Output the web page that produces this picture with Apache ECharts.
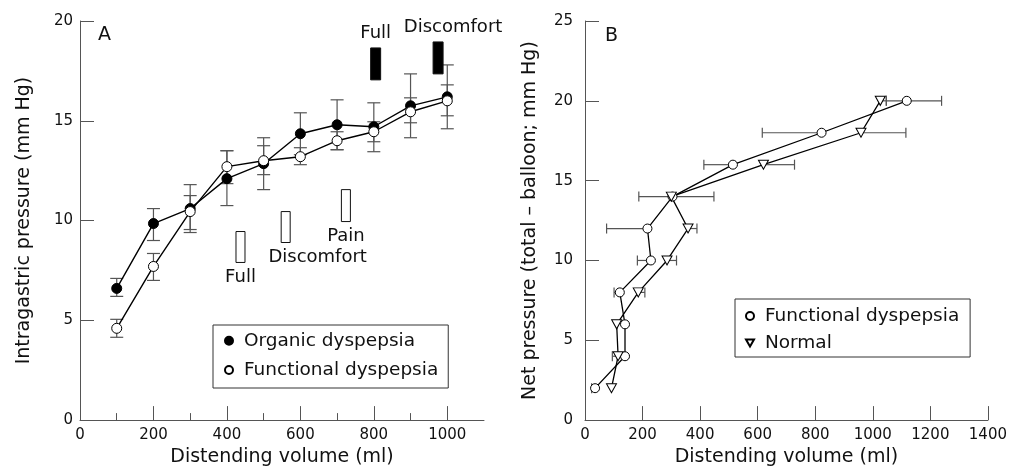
<!DOCTYPE html>
<html><head><meta charset="utf-8">
<script src="https://cdn.jsdelivr.net/npm/echarts@6/dist/echarts.min.js"></script>
<style>html,body{margin:0;padding:0;background:#fff}#c{width:1010px;height:472px}</style>
</head><body><div id="c"></div>
<script>
// ---------- Panel A data ----------
const volumesA = [100, 200, 300, 400, 500, 600, 700, 800, 900, 1000];
const organic   = [6.6, 9.85, 10.6, 12.1, 12.85, 14.35, 14.8, 14.7, 15.75, 16.2];
const organicLo = [6.2, 9.0, 9.4, 10.75, 11.55, 13.3, 13.55, 13.45, 14.15, 14.6];
const organicHi = [7.1, 10.6, 11.8, 13.5, 14.15, 15.4, 16.05, 15.9, 17.35, 17.8];
const functionalA   = [4.6, 7.7, 10.45, 12.7, 13.0, 13.2, 14.0, 14.45, 15.45, 16.0];
const functionalALo = [4.15, 7.0, 9.55, 11.85, 12.3, 12.8, 13.55, 13.95, 14.9, 15.25];
const functionalAHi = [5.05, 8.35, 11.25, 13.5, 13.75, 13.65, 14.45, 14.95, 16.15, 16.8];
// symptom threshold bars (volume, low pressure, high pressure)
const openSymptomNames = ['Full', 'Discomfort', 'Pain'];
const openSymptomVol = [437, 560, 724];
const openSymptomLo  = [7.9, 8.9, 9.95];
const openSymptomHi  = [9.45, 10.45, 11.55];
const filledSymptomNames = ['Full', 'Discomfort'];
const filledSymptomVol = [805, 975];
const filledSymptomLo  = [17.05, 17.35];
const filledSymptomHi  = [18.65, 18.95];
const xLabelsA = [0, 200, 400, 600, 800, 1000];
const xMajorTicksA = [200, 400, 600, 800, 1000];
const xMinorTicksA = [100, 300, 500, 700, 900];

// ---------- Panel B data ----------
const pressuresB = [2, 4, 6, 8, 10, 12, 14, 16, 18, 20];
const functionalBVol = [35, 139, 139, 121, 229, 217, 304, 514, 822, 1118];
const functionalBLo  = [23, 95, 139, 101, 182, 75, 187, 413, 616, 1047];
const functionalBHi  = [35, 139, 139, 121, 229, 217, 304, 514, 822, 1239];
const normalVol = [92, 115, 110, 185, 285, 358, 300, 620, 959, 1026];
const normalLo  = [92, 115, 110, 185, 285, 358, 300, 620, 959, 1026];
const normalHi  = [92, 115, 110, 208, 318, 389, 448, 728, 1115, 1047];
const xLabelsB = [0, 200, 400, 600, 800, 1000, 1200, 1400];
const xTicksB = [200, 400, 600, 800, 1000, 1200, 1400];

// ---------- styles ----------
const FONT = 'DejaVu Sans';
const AXIS_COLOR = '#555';
const ERR_COLOR = '#555';
const TEXT_COLOR = '#111';
const TRI = 'path://M0,0L10,0L5,8.66Z';
const openLabelOffsets = [[0, 14.5], [32, 14.5], [0, 14.5]];
const filledLabelOffsets = [[0, -15], [15, -15]];

function zip(...arrs) { return arrs[0].map((_, i) => arrs.map(a => a[i])); }
const plain = v => String(v);

function vErr(params, api) {
  const x = api.value(0), lo = api.value(1), hi = api.value(2);
  const p1 = api.coord([x, hi]), p2 = api.coord([x, lo]);
  const w = 6.5;
  const st = { stroke: ERR_COLOR, lineWidth: 1.2 };
  return { type: 'group', children: [
    { type: 'line', shape: { x1: p1[0], y1: p1[1], x2: p2[0], y2: p2[1] }, style: st },
    { type: 'line', shape: { x1: p1[0] - w, y1: p1[1], x2: p1[0] + w, y2: p1[1] }, style: st },
    { type: 'line', shape: { x1: p2[0] - w, y1: p2[1], x2: p2[0] + w, y2: p2[1] }, style: st }
  ]};
}
function hErr(params, api) {
  const y = api.value(0), lo = api.value(1), hi = api.value(2), c = api.value(3);
  const pl = api.coord([lo, y]), ph = api.coord([hi, y]);
  const h = 5;
  const st = { stroke: ERR_COLOR, lineWidth: 1.2 };
  const ch = [{ type: 'line', shape: { x1: pl[0], y1: pl[1], x2: ph[0], y2: ph[1] }, style: st }];
  if (lo < c) ch.push({ type: 'line', shape: { x1: pl[0], y1: pl[1] - h, x2: pl[0], y2: pl[1] + h }, style: st });
  if (hi > c) ch.push({ type: 'line', shape: { x1: ph[0], y1: ph[1] - h, x2: ph[0], y2: ph[1] + h }, style: st });
  return { type: 'group', children: ch };
}
function symptomRenderer(names, offsets, fill, width, below) {
  return function (params, api) {
    const x = api.value(0), lo = api.value(1), hi = api.value(2);
    const pt = api.coord([x, hi]), pb = api.coord([x, lo]);
    const i = params.dataIndex;
    const anchorY = below ? pb[1] : pt[1];
    return { type: 'group', children: [
      { type: 'rect', shape: { x: pt[0] - width / 2, y: pt[1], width: width, height: pb[1] - pt[1] },
        style: { fill: fill, stroke: '#111', lineWidth: 1 } },
      { type: 'text', x: pt[0] + offsets[i][0], y: anchorY + offsets[i][1],
        style: { text: names[i], font: '18px ' + FONT, fill: TEXT_COLOR, align: 'center', verticalAlign: 'middle' } }
    ]};
  };
}

const axisLineStyle = { lineStyle: { color: AXIS_COLOR, width: 1 } };
const labelStyle = { fontFamily: FONT, fontSize: 15, color: TEXT_COLOR, formatter: plain };
const nameStyle = { fontFamily: FONT, fontSize: 19, color: TEXT_COLOR };

const option = {
  animation: false,
  backgroundColor: '#fff',
  grid: [
    { left: 80, top: 21, width: 404, height: 400 },
    { left: 585, top: 21, width: 404, height: 400 }
  ],
  xAxis: [
    { gridIndex: 0, type: 'value', min: 0, max: 1100, interval: 200, position: 'bottom',
      name: 'Distending volume (ml)', nameLocation: 'middle', nameGap: 26, nameTextStyle: nameStyle,
      axisLine: axisLineStyle, splitLine: { show: false },
      axisTick: { inside: true, length: 14, customValues: xMajorTicksA, lineStyle: { color: AXIS_COLOR } },
      axisLabel: Object.assign({ margin: 8, customValues: xLabelsA }, labelStyle) },
    { gridIndex: 0, type: 'value', min: 0, max: 1100, position: 'bottom',
      axisLine: { show: false }, splitLine: { show: false }, axisLabel: { show: false },
      axisTick: { inside: true, length: 7, customValues: xMinorTicksA, lineStyle: { color: AXIS_COLOR } } },
    { gridIndex: 1, type: 'value', min: 0, max: 1400, interval: 200, position: 'bottom',
      name: 'Distending volume (ml)', nameLocation: 'middle', nameGap: 26, nameTextStyle: nameStyle,
      axisLine: axisLineStyle, splitLine: { show: false },
      axisTick: { inside: true, length: 14, customValues: xTicksB, lineStyle: { color: AXIS_COLOR } },
      axisLabel: Object.assign({ margin: 8, customValues: xLabelsB }, labelStyle) }
  ],
  yAxis: [
    { gridIndex: 0, type: 'value', min: 0, max: 20, interval: 5,
      name: 'Intragastric pressure (mm Hg)', nameLocation: 'middle', nameGap: 46, nameTextStyle: nameStyle,
      axisLine: { show: true, lineStyle: { color: AXIS_COLOR } }, splitLine: { show: false },
      axisTick: { show: true, inside: true, length: 14, lineStyle: { color: AXIS_COLOR } },
      axisLabel: Object.assign({ margin: 7 }, labelStyle) },
    { gridIndex: 1, type: 'value', min: 0, max: 25, interval: 5,
      name: 'Net pressure (total – balloon; mm Hg)', nameLocation: 'middle', nameGap: 45, nameTextStyle: nameStyle,
      axisLine: { show: true, lineStyle: { color: AXIS_COLOR } }, splitLine: { show: false },
      axisTick: { show: true, inside: true, length: 14, lineStyle: { color: AXIS_COLOR } },
      axisLabel: Object.assign({ margin: 12 }, labelStyle) }
  ],
  legend: [
    { left: 213, top: 325, orient: 'vertical', itemWidth: 8, itemHeight: 8, itemGap: 9.3,
      padding: [5.7, 10, 8, 11], borderColor: '#333', borderWidth: 1,
      formatter: ' {name}', selectedMode: false,
      textStyle: { fontFamily: FONT, fontSize: 18.5, color: TEXT_COLOR, lineHeight: 20 },
      data: [{ name: 'Organic dyspepsia', icon: 'circle' }, { name: 'Functional dyspepsia', icon: 'circle' }] },
    { left: 735, top: 299, orient: 'vertical', itemWidth: 8, itemHeight: 8, itemGap: 7,
      padding: [7, 5, 4, 10], borderColor: '#333', borderWidth: 1,
      formatter: ' {name}', selectedMode: false,
      textStyle: { fontFamily: FONT, fontSize: 18.5, color: TEXT_COLOR, lineHeight: 20 },
      data: [{ name: 'Functional dyspepsia ', icon: 'circle' }, { name: 'Normal', icon: TRI }] }
  ],
  graphic: [
    { type: 'text', left: 98, top: 26, style: { text: 'A', font: '19px ' + FONT, fill: TEXT_COLOR } },
    { type: 'text', left: 605, top: 27, style: { text: 'B', font: '19px ' + FONT, fill: TEXT_COLOR } }
  ],
  series: [
    // ---- Panel A ----
    { type: 'custom', xAxisIndex: 0, yAxisIndex: 0, renderItem: vErr, z: 1, silent: true,
      encode: { x: 0, y: [1, 2] }, data: zip(volumesA, organicLo, organicHi) },
    { type: 'custom', xAxisIndex: 0, yAxisIndex: 0, renderItem: vErr, z: 1, silent: true,
      encode: { x: 0, y: [1, 2] }, data: zip(volumesA, functionalALo, functionalAHi) },
    { type: 'custom', xAxisIndex: 0, yAxisIndex: 0, z: 1, silent: true,
      renderItem: symptomRenderer(openSymptomNames, openLabelOffsets, '#fff', 9, true),
      encode: { x: 0, y: [1, 2] }, data: zip(openSymptomVol, openSymptomLo, openSymptomHi) },
    { type: 'custom', xAxisIndex: 0, yAxisIndex: 0, z: 1, silent: true,
      renderItem: symptomRenderer(filledSymptomNames, filledLabelOffsets, '#000', 10, false),
      encode: { x: 0, y: [1, 2] }, data: zip(filledSymptomVol, filledSymptomLo, filledSymptomHi) },
    { name: 'Organic dyspepsia', type: 'line', xAxisIndex: 0, yAxisIndex: 0, z: 3,
      symbol: 'circle', symbolSize: 10,
      lineStyle: { color: '#000', width: 1.4 }, itemStyle: { color: '#000', borderColor: '#000', borderWidth: 1 },
      data: zip(volumesA, organic) },
    { name: 'Functional dyspepsia', type: 'line', xAxisIndex: 0, yAxisIndex: 0, z: 3,
      symbol: 'circle', symbolSize: 10,
      lineStyle: { color: '#000', width: 1.4 }, itemStyle: { color: '#fff', borderColor: '#000', borderWidth: 1 },
      data: zip(volumesA, functionalA) },
    // ---- Panel B ----
    { type: 'custom', xAxisIndex: 2, yAxisIndex: 1, renderItem: hErr, z: 1, silent: true,
      encode: { y: 0, x: [1, 2] }, data: zip(pressuresB, functionalBLo, functionalBHi, functionalBVol) },
    { type: 'custom', xAxisIndex: 2, yAxisIndex: 1, renderItem: hErr, z: 1, silent: true,
      encode: { y: 0, x: [1, 2] }, data: zip(pressuresB, normalLo, normalHi, normalVol) },
    { name: 'Functional dyspepsia ', type: 'line', xAxisIndex: 2, yAxisIndex: 1, z: 3,
      symbol: 'circle', symbolSize: 9,
      lineStyle: { color: '#000', width: 1.3 }, itemStyle: { color: '#fff', borderColor: '#000', borderWidth: 1 },
      data: zip(functionalBVol, pressuresB) },
    { name: 'Normal', type: 'line', xAxisIndex: 2, yAxisIndex: 1, z: 3,
      symbol: TRI, symbolSize: [10, 9],
      lineStyle: { color: '#000', width: 1.3 }, itemStyle: { color: '#fff', borderColor: '#000', borderWidth: 1 },
      data: zip(normalVol, pressuresB) }
  ]
};
const chart = echarts.init(document.getElementById('c'), null, { renderer: 'canvas' });
chart.setOption(option);
</script>
</body></html>
